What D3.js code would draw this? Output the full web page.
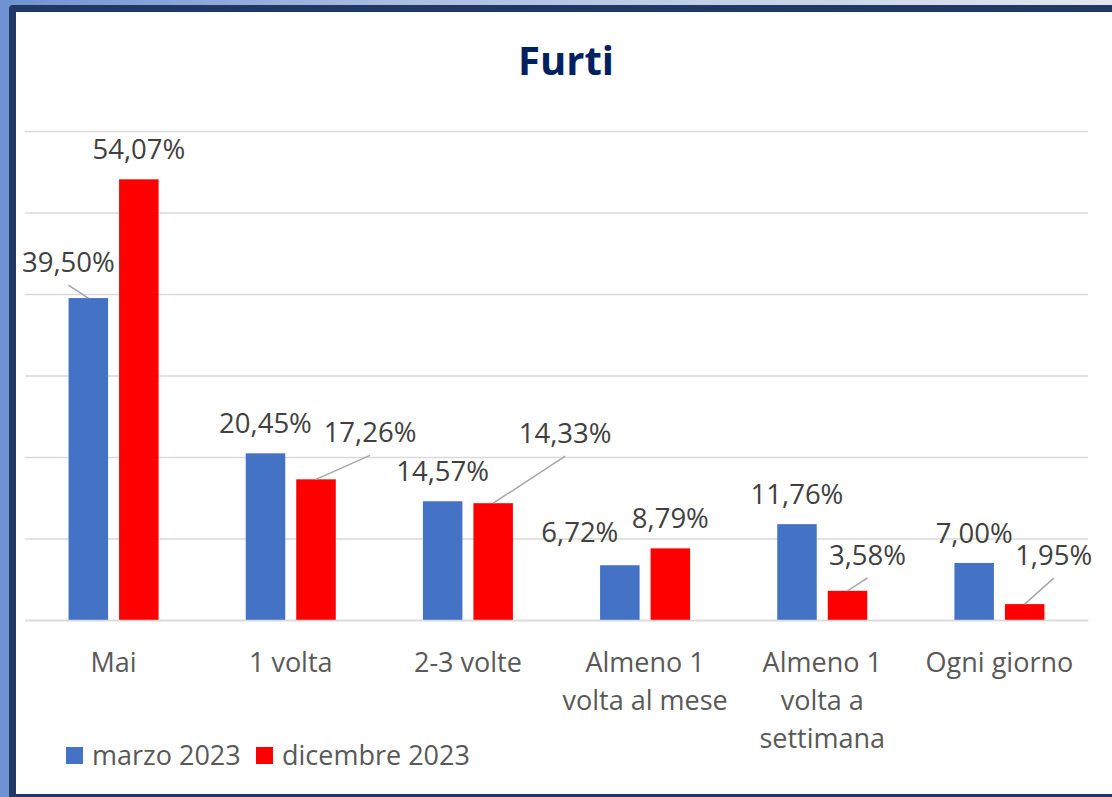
<!DOCTYPE html>
<html><head><meta charset="utf-8">
<script src="https://cdn.jsdelivr.net/npm/d3@7"></script>
<style>html,body{margin:0;padding:0;background:#fff;overflow:hidden}</style>
</head><body>
<svg id="chart" width="1112" height="797"></svg>
<script>
const title = "Furti";
const categories = ["Mai", "1 volta", "2-3 volte", "Almeno 1\nvolta al mese", "Almeno 1\nvolta a\nsettimana", "Ogni giorno"];
const seriesNames = ["marzo 2023", "dicembre 2023"];
const marzo = [39.50, 20.45, 14.57, 6.72, 11.76, 7.00];
const dicembre = [54.07, 17.26, 14.33, 8.79, 3.58, 1.95];
const colors = ["#4472C4", "#FF0000"];
const yTicks = [0, 10, 20, 30, 40, 50, 60];
// manual data-label displacement (as in the original, dragged labels)
const labelShiftMarzo = [[-20, -6], [0, 0], [0, 0], [-40, -3], [0, 0], [0, 0]];
const labelShiftDicembre = [[0, 0], [54, -17], [72, -40], [0, 0], [20, -6], [29, -19]];

const svg = d3.select("#chart");
const W = 1112, H = 797;
const FONT = "'Open Sans', 'DejaVu Sans', sans-serif";

// frame background
const defs = svg.append("defs");
const g1 = defs.append("linearGradient").attr("id", "bg").attr("x1", "0").attr("x2", "1").attr("y1", "0").attr("y2", "0");
g1.append("stop").attr("offset", "0").attr("stop-color", "#6f93d2");
g1.append("stop").attr("offset", "0.35").attr("stop-color", "#a9bde2");
g1.append("stop").attr("offset", "1").attr("stop-color", "#e3e6ee");
svg.append("rect").attr("width", W).attr("height", H).attr("fill", "url(#bg)");
svg.append("rect").attr("x", 9).attr("y", 5).attr("width", W + 20).attr("height", H).attr("rx", 4).attr("fill", "#1f3864");
svg.append("rect").attr("x", 16).attr("y", 12).attr("width", W).attr("height", 794 - 12).attr("fill", "#ffffff");

const margin = {left: 25, right: 1088, top: 131, bottom: 620};
const x = d3.scaleBand().domain(categories).range([margin.left, margin.right]).padding(0);
const y = d3.scaleLinear().domain([0, 60]).range([margin.bottom, margin.top]);

// gridlines
const gy = svg.append("g").attr("transform", `translate(${margin.left},0)`)
  .call(d3.axisLeft(y).tickValues(yTicks).tickSize(-(margin.right - margin.left)).tickFormat(""));
gy.select(".domain").remove();
gy.selectAll(".tick line").attr("stroke", "#d9d9d9").attr("stroke-width", 1.5);

// title
svg.append("text").attr("x", 566).attr("y", 75).attr("text-anchor", "middle")
  .attr("font-family", FONT).attr("font-weight", "bold").attr("font-size", 40)
  .attr("fill", "#002060").text(title);

// bars
const bw = x.bandwidth() * 0.223;
const gap = 11;
const series = [marzo, dicembre];
const shifts = [labelShiftMarzo, labelShiftDicembre];
const barX = (ci, si) => x(categories[ci]) + x.bandwidth() / 2 - (2 * bw + gap) / 2 + (si === 0 ? 0 : bw + gap);

series.forEach((vals, si) => {
  svg.append("g").selectAll("rect").data(vals).join("rect")
    .attr("x", (d, i) => barX(i, si))
    .attr("y", d => y(d))
    .attr("width", bw)
    .attr("height", d => y(0) - y(d))
    .attr("fill", colors[si]);
});

// data labels
const fmt = v => v.toFixed(2).replace(".", ",") + "%";
series.forEach((vals, si) => {
  const g = svg.append("g");
  vals.forEach((v, i) => {
    const cx = barX(i, si) + bw / 2;
    const top = y(v);
    const [dx, dy] = shifts[si][i];
    const lx = cx + dx, ly = top - 20 + dy;
    if (Math.abs(dy) > 5) {
      g.append("line").attr("x1", lx).attr("y1", ly + 13).attr("x2", cx).attr("y2", top)
        .attr("stroke", "#a6a6a6").attr("stroke-width", 1.5);
    }
    g.append("text").attr("x", lx).attr("y", ly).attr("text-anchor", "middle")
      .attr("font-family", FONT).attr("font-size", 27.5).attr("fill", "#404040").text(fmt(v));
  });
});

// category axis
const gx = svg.append("g").attr("transform", `translate(0,${margin.bottom})`)
  .call(d3.axisBottom(x).tickSize(0).tickFormat(""));
gx.select(".domain").attr("stroke", "#d9d9d9").attr("stroke-width", 1.5);
gx.selectAll(".tick").each(function(d) {
  const t = d3.select(this).append("text").attr("fill", "#595959")
    .attr("font-family", FONT).attr("font-size", 27).attr("text-anchor", "middle");
  d.split("\n").forEach((line, k) => {
    t.append("tspan").attr("x", 0).attr("y", 52 + k * 38).text(line);
  });
});

// legend
const leg = svg.append("g");
const legX = [66, 256];
seriesNames.forEach((n, i) => {
  leg.append("rect").attr("x", legX[i]).attr("y", 747).attr("width", 17).attr("height", 17).attr("fill", colors[i]);
  leg.append("text").attr("x", legX[i] + 26).attr("y", 765).attr("font-family", FONT).attr("font-size", 27)
    .attr("fill", "#595959").text(n);
});
</script>
</body></html>
